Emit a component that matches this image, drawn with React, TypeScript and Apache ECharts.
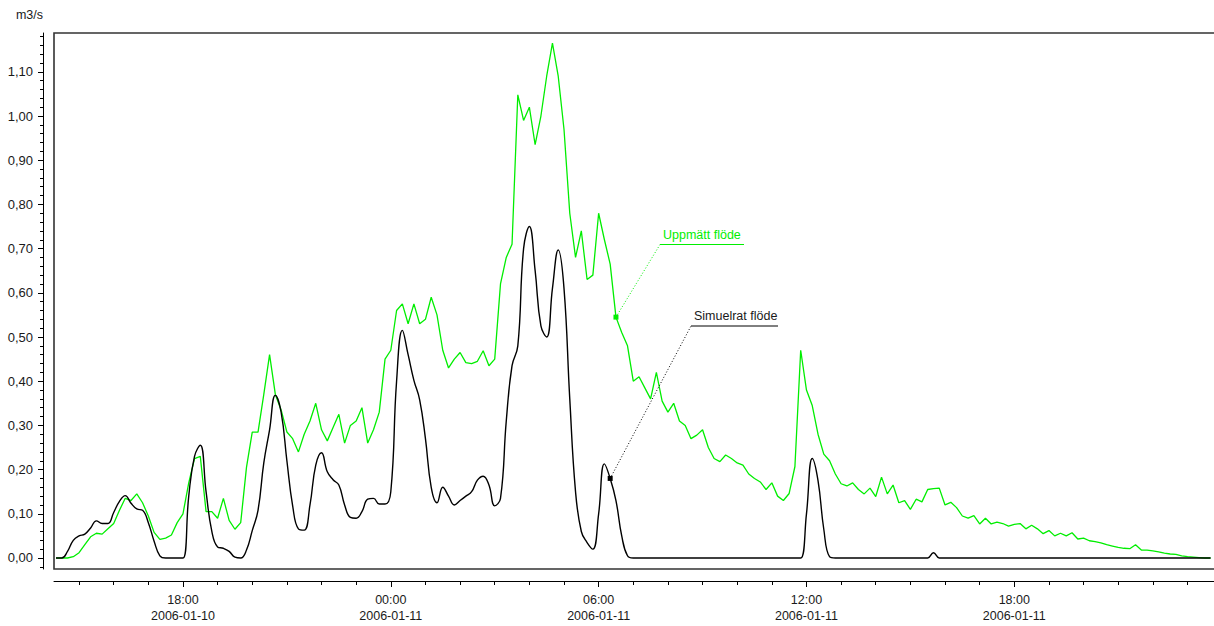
import { useEffect, useRef } from 'react';
import * as echarts from 'echarts';

// Sampling of both flow series: one value every 10 minutes
const STEP_MS = 10 * 60 * 1000;
const SERIES_START = '2006-01-10 14:20';
const AXIS_START = '2006-01-10 14:16:36';
const AXIS_END = '2006-01-11 23:56:18';
const FIRST_HOUR_TICK = '2006-01-10 15:00';
const HOUR_TICK_COUNT = 33;

const timeLabels = [
  '2006-01-10 18:00',
  '2006-01-11 00:00',
  '2006-01-11 06:00',
  '2006-01-11 12:00',
  '2006-01-11 18:00',
];

const yTickValues = [0, 0.1, 0.2, 0.3, 0.4, 0.5, 0.6, 0.7, 0.8, 0.9, 1.0, 1.1];

// Uppmätt flöde (m3/s)
const measuredFlow = [
  0, 0, 0, 0.003, 0.012, 0.03, 0.048, 0.056, 0.054, 0.066,
  0.078, 0.108, 0.135, 0.13, 0.145, 0.125, 0.095, 0.058, 0.042, 0.045,
  0.052, 0.08, 0.1, 0.17, 0.225, 0.23, 0.105, 0.105, 0.09, 0.135,
  0.085, 0.065, 0.08, 0.205, 0.285, 0.285, 0.37, 0.46, 0.37, 0.335,
  0.285, 0.27, 0.24, 0.28, 0.31, 0.35, 0.29, 0.265, 0.295, 0.325,
  0.26, 0.3, 0.31, 0.34, 0.26, 0.29, 0.33, 0.45, 0.47, 0.56,
  0.575, 0.53, 0.575, 0.53, 0.54, 0.59, 0.55, 0.47, 0.43, 0.45,
  0.465, 0.442, 0.44, 0.445, 0.469, 0.435, 0.45, 0.62, 0.68, 0.71,
  1.048, 0.99, 1.02, 0.935, 1.0, 1.09, 1.165, 1.09, 0.97, 0.78,
  0.68, 0.74, 0.63, 0.64, 0.78, 0.72, 0.665, 0.545, 0.51, 0.48,
  0.4, 0.41, 0.385, 0.36, 0.42, 0.355, 0.33, 0.35, 0.31, 0.3,
  0.27, 0.278, 0.29, 0.25, 0.225, 0.218, 0.233, 0.225, 0.215, 0.21,
  0.19, 0.18, 0.172, 0.155, 0.17, 0.14, 0.13, 0.146, 0.207, 0.47,
  0.38, 0.345, 0.28, 0.235, 0.22, 0.19, 0.168, 0.163, 0.17, 0.155,
  0.145, 0.158, 0.139, 0.183, 0.145, 0.165, 0.125, 0.13, 0.11, 0.133,
  0.127, 0.155, 0.157, 0.158, 0.12, 0.126, 0.114, 0.095, 0.09, 0.096,
  0.077, 0.09, 0.077, 0.081, 0.078, 0.072, 0.076, 0.078, 0.066, 0.074,
  0.066, 0.055, 0.062, 0.05, 0.056, 0.05, 0.057, 0.043, 0.045, 0.039,
  0.037, 0.034, 0.03, 0.027, 0.024, 0.022, 0.021, 0.03, 0.018, 0.018,
  0.016, 0.014, 0.011, 0.009, 0.008, 0.005, 0.003, 0.002, 0.001, 0, 0,
];

// Simuelrat flöde (m3/s)
const simulatedFlow = [
  0, 0, 0.015, 0.04, 0.05, 0.054, 0.068, 0.084, 0.078, 0.078,
  0.103, 0.128, 0.141, 0.124, 0.111, 0.108, 0.08, 0.038, 0.005, 0,
  0, 0, 0, 0.14, 0.23, 0.255, 0.15, 0.06, 0.025, 0.022,
  0.015, 0.002, 0, 0.018, 0.062, 0.108, 0.215, 0.29, 0.368, 0.33,
  0.22, 0.118, 0.066, 0.063, 0.12, 0.21, 0.238, 0.195, 0.177, 0.165,
  0.12, 0.092, 0.09, 0.105, 0.133, 0.135, 0.122, 0.122, 0.15, 0.4,
  0.515, 0.46, 0.402, 0.358, 0.27, 0.16, 0.125, 0.16, 0.14, 0.12,
  0.13, 0.14, 0.15, 0.176, 0.185, 0.165, 0.118, 0.135, 0.31, 0.435,
  0.48, 0.7, 0.75, 0.65, 0.525, 0.5, 0.61, 0.697, 0.61, 0.36,
  0.15, 0.06, 0.035, 0.02, 0.1, 0.213, 0.18, 0.13, 0.05, 0.005,
  0, 0, 0, 0, 0, 0, 0, 0, 0, 0,
  0, 0, 0, 0, 0, 0, 0, 0, 0, 0,
  0, 0, 0, 0, 0, 0, 0, 0, 0, 0,
  0.1, 0.225, 0.175, 0.065, 0.003, 0, 0, 0, 0, 0,
  0, 0, 0, 0, 0, 0, 0, 0, 0, 0,
  0, 0, 0.012, 0, 0, 0, 0, 0, 0, 0,
  0, 0, 0, 0, 0, 0, 0, 0, 0, 0,
  0, 0, 0, 0, 0, 0, 0, 0, 0, 0,
  0, 0, 0, 0, 0, 0, 0, 0, 0, 0,
  0, 0, 0, 0, 0, 0, 0, 0, 0, 0, 0,
];

// Samples that carry the series callouts
const measuredCalloutIndex = 97;
const simulatedCalloutIndex = 96;

const GREEN = '#00ee00';
const INK = '#1a1a1a';
const FONT = '"Liberation Sans", Arial, Helvetica, sans-serif';

function parseLocal(s: string): number {
  const [d, t] = s.split(' ');
  const [Y, M, D] = d.split('-').map(Number);
  const [h, m, sec] = t.split(':').map(Number);
  return new Date(Y, M - 1, D, h, m, sec || 0).getTime();
}

const pad = (n: number) => String(n).padStart(2, '0');

function formatTimeLabel(value: number): string {
  const d = new Date(value);
  return `${pad(d.getHours())}:${pad(d.getMinutes())}\n${d.getFullYear()}-${pad(d.getMonth() + 1)}-${pad(d.getDate())}`;
}

export default function App() {
  const ref = useRef<HTMLDivElement>(null);

  useEffect(() => {
    const el = ref.current;
    if (!el) return;
    const chart = echarts.init(el, null, { renderer: 'svg' });

    const t0 = parseLocal(SERIES_START);
    const toPairs = (arr: number[]) => arr.map((v, i) => [t0 + i * STEP_MS, v]);
    const measuredData = toPairs(measuredFlow);
    const simulatedData = toPairs(simulatedFlow);

    const xMin = parseLocal(AXIS_START);
    const xMax = parseLocal(AXIS_END);
    const firstHour = parseLocal(FIRST_HOUR_TICK);
    const hourTicks = Array.from({ length: HOUR_TICK_COUNT }, (_, i) => firstHour + i * 3600 * 1000);
    const labelTimes = timeLabels.map(parseLocal);

    const yMin = -0.0249;
    const yMax = 1.1878;
    const minorY = Array.from({ length: 61 }, (_, i) => Math.round((-0.02 + i * 0.02) * 1000) / 1000);

    chart.setOption({
      animation: false,
      backgroundColor: '#ffffff',
      textStyle: { fontFamily: FONT },
      grid: {
        left: 54,
        right: 0,
        top: 33,
        bottom: 57,
        show: true,
        borderColor: '#333333',
        borderWidth: 1.6,
        backgroundColor: 'transparent',
      },
      xAxis: [
        {
          type: 'value',
          min: xMin,
          max: xMax,
          scale: true,
          position: 'bottom',
          offset: 12,
          axisLine: { show: true, onZero: false, lineStyle: { color: '#000', width: 1 } },
          axisTick: { show: true, customValues: hourTicks, length: 4, lineStyle: { color: '#000', width: 1 } },
          axisLabel: {
            show: true,
            customValues: labelTimes,
            formatter: (v: number) => formatTimeLabel(v),
            fontSize: 12.5,
            lineHeight: 16,
            margin: 11,
            color: INK,
            fontFamily: FONT,
          },
          splitLine: { show: false },
        },
        {
          type: 'value',
          min: xMin,
          max: xMax,
          scale: true,
          position: 'bottom',
          offset: 12,
          axisLine: { show: false, onZero: false },
          axisTick: { show: true, customValues: labelTimes, length: 6, lineStyle: { color: '#000', width: 1 } },
          axisLabel: { show: false },
          splitLine: { show: false },
        },
      ],
      yAxis: [
        {
          type: 'value',
          min: yMin,
          max: yMax,
          position: 'left',
          offset: 11,
          name: 'm3/s',
          nameLocation: 'end',
          nameGap: 12,
          nameTextStyle: { fontSize: 12.5, color: INK, align: 'right', fontFamily: FONT },
          axisLine: { show: true, onZero: false, lineStyle: { color: '#000', width: 1 } },
          axisTick: { show: true, customValues: yTickValues, length: 5, lineStyle: { color: '#000', width: 1 } },
          axisLabel: {
            show: true,
            customValues: yTickValues,
            formatter: (v: number) => v.toFixed(2).replace('.', ','),
            fontSize: 13,
            margin: 10,
            color: INK,
            fontFamily: FONT,
          },
          splitLine: { show: false },
        },
        {
          type: 'value',
          min: yMin,
          max: yMax,
          position: 'left',
          offset: 11,
          axisLine: { show: false, onZero: false },
          axisTick: { show: true, customValues: minorY, length: 3, lineStyle: { color: '#000', width: 1 } },
          axisLabel: { show: false },
          splitLine: { show: false },
        },
      ],
      series: [
        {
          name: 'Uppmätt flöde',
          type: 'line',
          xAxisIndex: 0,
          yAxisIndex: 0,
          data: measuredData,
          showSymbol: false,
          symbol: 'none',
          lineStyle: { color: GREEN, width: 1.3 },
          z: 2,
        },
        {
          name: 'Simuelrat flöde',
          type: 'line',
          xAxisIndex: 0,
          yAxisIndex: 0,
          data: simulatedData,
          showSymbol: false,
          symbol: 'none',
          smooth: 0.45,
          lineStyle: { color: '#000', width: 1.4 },
          z: 3,
        },
      ],
    });

    const gp = chart.convertToPixel({ seriesIndex: 0 }, measuredData[measuredCalloutIndex]) as number[];
    const bp = chart.convertToPixel({ seriesIndex: 1 }, simulatedData[simulatedCalloutIndex]) as number[];

    const greenElbow = [660, 244.5];
    const blackElbow = [691, 326];

    chart.setOption({
      graphic: [
        {
          type: 'line',
          shape: { x1: gp[0], y1: gp[1], x2: greenElbow[0], y2: greenElbow[1] },
          style: { stroke: GREEN, lineWidth: 1, lineDash: [1, 2] },
          z: 10,
        },
        {
          type: 'line',
          shape: { x1: greenElbow[0], y1: greenElbow[1], x2: 744, y2: greenElbow[1] },
          style: { stroke: GREEN, lineWidth: 1 },
          z: 10,
        },
        {
          type: 'rect',
          shape: { x: gp[0] - 2.5, y: gp[1] - 2.5, width: 5, height: 5 },
          style: { fill: GREEN },
          z: 11,
        },
        {
          type: 'text',
          x: 663,
          y: 235,
          style: { text: 'Uppmätt flöde', fill: GREEN, font: `12.5px ${FONT}`, verticalAlign: 'middle', align: 'left' },
          z: 11,
        },
        {
          type: 'line',
          shape: { x1: bp[0], y1: bp[1], x2: blackElbow[0], y2: blackElbow[1] },
          style: { stroke: '#000', lineWidth: 1, lineDash: [1, 2] },
          z: 10,
        },
        {
          type: 'line',
          shape: { x1: blackElbow[0], y1: blackElbow[1], x2: 778, y2: blackElbow[1] },
          style: { stroke: '#000', lineWidth: 1 },
          z: 10,
        },
        {
          type: 'rect',
          shape: { x: bp[0] - 2.5, y: bp[1] - 2.5, width: 5, height: 5 },
          style: { fill: '#000' },
          z: 11,
        },
        {
          type: 'text',
          x: 694,
          y: 316,
          style: { text: 'Simuelrat flöde', fill: INK, font: `12.5px ${FONT}`, verticalAlign: 'middle', align: 'left' },
          z: 11,
        },
      ],
    });

    return () => chart.dispose();
  }, []);

  return (
    <div
      ref={ref}
      style={{ position: 'fixed', left: 0, top: 0, width: 1220, height: 626, background: '#ffffff' }}
    />
  );
}
